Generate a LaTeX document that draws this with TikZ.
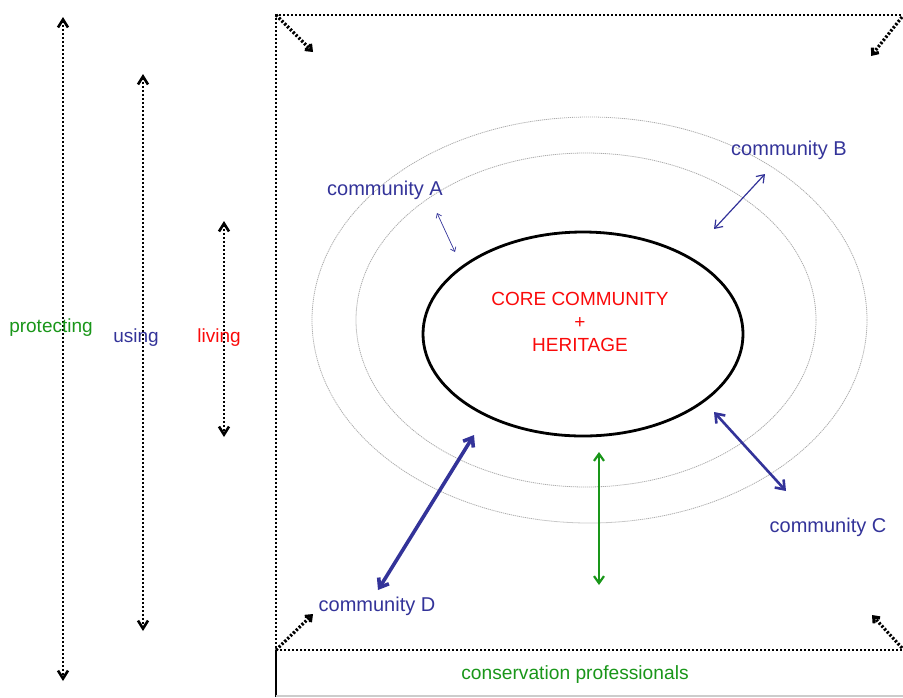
\documentclass[tikz,border=0pt]{standalone}
\usepackage{fontspec}
\setmainfont{Liberation Sans}
\usepackage{xcolor}
\usepackage{tikz}
\usetikzlibrary{positioning}
\usetikzlibrary{arrows.meta}
\usetikzlibrary{shapes.geometric}
\definecolor{commblue}{RGB}{51,51,153}
\definecolor{consgreen}{RGB}{25,150,25}
\definecolor{corered}{RGB}{250,10,10}

\begin{document}
\begin{tikzpicture}[x=0.5pt,y=-0.5pt,
    dotline/.style={line width=1.3pt,dash pattern=on 1.1pt off 0.9pt},
    ring/.style={ellipse,draw=gray!65,line width=0.4pt,dash pattern=on 0.6pt off 0.4pt,inner sep=0pt},
    vtips/.style={{Straight Barb[length=4pt,width=5pt]}-{Straight Barb[length=4pt,width=5pt]}},
    ctip/.style={-{Straight Barb[length=2.5pt,width=4pt]}},
    lbl/.style={font=\fontsize{9.5}{11}\selectfont},
    comm/.style={font=\fontsize{10}{12}\selectfont,text=commblue}]
    \useasboundingbox (0,0) rectangle (903,697);

    % frame
    \coordinate (ftl) at (276,15);
    \coordinate (ftr) at (905,15);
    \coordinate (fbl) at (276,650);
    \coordinate (fbr) at (905,650);
    \coordinate (bbl) at (276,697);
    \coordinate (bbr) at (905,696);

    \draw[dotline] (ftr) -- (ftl) -- (fbl);
    \draw[dotline] (fbl) -- (fbr);
    \draw[line width=0.8pt] (fbl) -- (bbl);
    \draw[gray!40,line width=0.6pt] (276,696) -- (bbr);

    \node (cons) at (575,675) [lbl,text=consgreen,font=\fontsize{9.6}{11}\selectfont] {conservation professionals};

    % corner arrows
    \coordinate (ctl) at (313,52);
    \coordinate (ctr) at (871,56);
    \coordinate (cbl) at (313,614);
    \coordinate (cbr) at (872,615);
    \coordinate (ktr) at (902,17);
    \coordinate (kbr) at (902,648);

    \draw[dotline,line width=1.6pt,ctip] (ftl) -- (ctl);
    \draw[dotline,line width=1.6pt,ctip] (ktr) -- (ctr);
    \draw[dotline,line width=1.6pt,ctip] (fbl) -- (cbl);
    \draw[dotline,line width=1.6pt,ctip] (kbr) -- (cbr);

    % left scale arrows
    \coordinate (p1) at (63,17);
    \coordinate (p2) at (63,681);
    \coordinate (u1) at (143,74);
    \coordinate (u2) at (143,631);
    \coordinate (l1) at (224,221);
    \coordinate (l2) at (224,437);

    \draw[dotline,vtips] (p1) -- (p2);
    \draw[dotline,vtips] (u1) -- (u2);
    \draw[dotline,vtips] (l1) -- (l2);

    \node (protecting) at (51,328) [lbl,text=consgreen] {protecting};
    \node (using) at (136,338) [lbl,text=commblue] {using};
    \node (living) at (219,338) [lbl,text=corered] {living};

    % rings and core
    \node[ring,minimum width=277.5pt,minimum height=203pt] (ringout) at (589.5,320) {};
    \node[ring,minimum width=230pt,minimum height=167pt] (ringin) at (586,320) {};
    \node[ellipse,draw,line width=1.4pt,inner sep=0pt,minimum width=160pt,minimum height=102pt] (core) at (583,334) {};

    \node (coretext) at (580,322) [align=center,text=corered,font=\fontsize{9.5}{11.5}\selectfont] {CORE COMMUNITY\\+\\HERITAGE};

    % community links
    \coordinate (a1) at (437,213);
    \coordinate (a2) at (455,252);
    \coordinate (b1) at (765,174);
    \coordinate (b2) at (714,229);
    \coordinate (c1) at (714,412);
    \coordinate (c2) at (786,491);
    \coordinate (d1) at (474,435);
    \coordinate (d2) at (378,590);
    \coordinate (g1) at (599,452);
    \coordinate (g2) at (599,585);

    \draw[commblue,line width=0.35pt,{Straight Barb[length=2pt,width=3pt]}-{Straight Barb[length=2pt,width=3pt]}] (a1) -- (a2);
    \draw[commblue,line width=0.6pt,{Straight Barb[length=3.5pt,width=5pt]}-{Straight Barb[length=3.5pt,width=5pt]}] (b1) -- (b2);
    \draw[commblue,line width=1.3pt,{Straight Barb[length=4pt,width=6pt]}-{Straight Barb[length=4pt,width=6pt]}] (c1) -- (c2);
    \draw[commblue,line width=1.8pt,{Straight Barb[length=4pt,width=6pt]}-{Straight Barb[length=4pt,width=6pt]}] (d1) -- (d2);
    \draw[consgreen,line width=1.1pt,{Straight Barb[length=3.5pt,width=5pt]}-{Straight Barb[length=3.5pt,width=5pt]}] (g1) -- (g2);

    \node (commA) at (385,190) [comm] {community A};
    \node (commB) at (789,150) [comm] {community B};
    \node (commC) at (828,527) [comm] {community C};
    \node (commD) at (377,606) [comm] {community D};
\end{tikzpicture}
\end{document}
